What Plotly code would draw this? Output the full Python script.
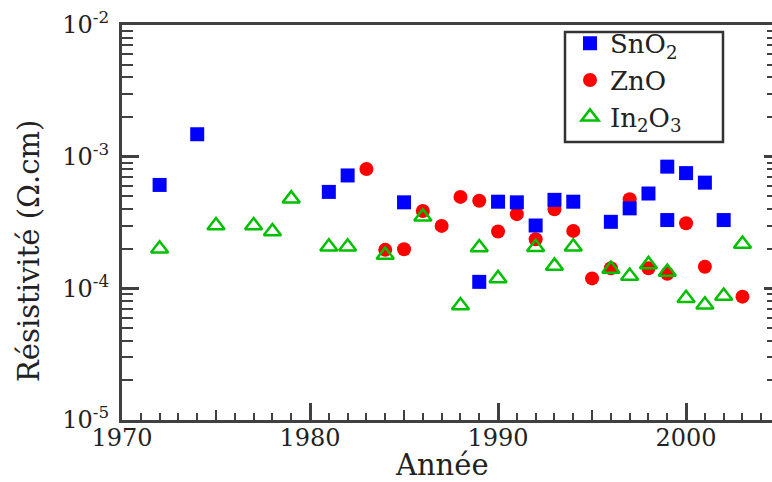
import plotly.graph_objects as go

# ---- data ----
sno2_years = [1972, 1974, 1981, 1982, 1985, 1989, 1990, 1991, 1992, 1993, 1994,
              1996, 1997, 1998, 1999, 1999, 2000, 2001, 2002]
sno2_vals = [6.1e-4, 1.48e-3, 5.4e-4, 7.2e-4, 4.5e-4, 1.12e-4, 4.55e-4, 4.5e-4, 3.0e-4,
             4.7e-4, 4.55e-4, 3.2e-4, 4.05e-4, 5.25e-4, 8.4e-4, 3.3e-4, 7.5e-4, 6.35e-4, 3.3e-4]

zno_years = [1983, 1984, 1985, 1986, 1987, 1988, 1989, 1990, 1991, 1992, 1993, 1994,
             1995, 1996, 1997, 1998, 1999, 2000, 2001, 2003]
zno_vals = [8.05e-4, 1.96e-4, 1.98e-4, 3.87e-4, 2.98e-4, 4.95e-4, 4.63e-4, 2.7e-4, 3.66e-4,
            2.36e-4, 3.98e-4, 2.73e-4, 1.19e-4, 1.42e-4, 4.75e-4, 1.42e-4, 1.29e-4, 3.12e-4,
            1.46e-4, 8.65e-5]

in2o3_years = [1972, 1975, 1977, 1978, 1979, 1981, 1982, 1984, 1986, 1988, 1989, 1990,
               1992, 1993, 1994, 1996, 1997, 1998, 1999, 2000, 2001, 2002, 2003]
in2o3_vals = [2.0e-4, 3.0e-4, 3.0e-4, 2.7e-4, 4.8e-4, 2.07e-4, 2.07e-4, 1.79e-4, 3.5e-4,
              7.4e-5, 2.04e-4, 1.19e-4, 2.05e-4, 1.48e-4, 2.07e-4, 1.4e-4, 1.24e-4, 1.52e-4,
              1.33e-4, 8.4e-5, 7.5e-5, 8.75e-5, 2.17e-4]

x_major = [1970, 1980, 1990, 2000]
x_half = [1975, 1985, 1995]
y_major = [1e-5, 1e-4, 1e-3, 1e-2]
y_labels = ["10<sup>-5</sup>", "10<sup>-4</sup>", "10<sup>-3</sup>", "10<sup>-2</sup>"]
y_minor = [m * 10.0 ** e for e in range(-5, -2) for m in range(2, 10)]

X_RANGE = [1970, 2004.57]
Y_RANGE = [-5, -2]
FONT = "DejaVu Serif"
AX = "#404040"
TXT = "#222222"

fig = go.Figure()
fig.add_trace(go.Scatter(x=zno_years, y=zno_vals, mode="markers", name="ZnO", legendrank=2,
                         marker=dict(symbol="circle", size=14, color="#ff0000")))
fig.add_trace(go.Scatter(x=sno2_years, y=sno2_vals, mode="markers", name="SnO<sub>2</sub>",
                         legendrank=1,
                         marker=dict(symbol="square", size=14, color="#0000ff")))
fig.add_trace(go.Scatter(x=in2o3_years, y=in2o3_vals, mode="markers",
                         name="In<sub>2</sub>O<sub>3</sub>", legendrank=3,
                         marker=dict(symbol="triangle-up-open", size=15, color="#00c000",
                                     line=dict(width=2.5, color="#00c000"))))
# helper empty traces to host the extra tick axes
fig.add_trace(go.Scatter(x=[], y=[], xaxis="x2", yaxis="y", showlegend=False, hoverinfo="skip"))
fig.add_trace(go.Scatter(x=[], y=[], xaxis="x", yaxis="y2", showlegend=False, hoverinfo="skip"))

fig.update_layout(
    width=772, height=482,
    margin=dict(l=122, r=0, t=25, b=62),
    paper_bgcolor="white", plot_bgcolor="white",
    showlegend=True,
    legend=dict(x=(570 - 122) / 650, y=1.013, xanchor="left", yanchor="top",
                borderwidth=0, bgcolor="rgba(0,0,0,0)",
                font=dict(family=FONT, size=26, color=TXT), tracegroupgap=0),
    shapes=[dict(type="rect", xref="paper", yref="paper",
                 x0=(565 - 122) / 650, x1=(723 - 122) / 650,
                 y0=(420 - 142) / 395, y1=(420 - 32) / 395,
                 line=dict(color="#333333", width=2.5), fillcolor="rgba(0,0,0,0)",
                 layer="below")],
    xaxis=dict(range=X_RANGE, tickmode="array", tickvals=x_major,
               ticks="inside", ticklen=17, tickwidth=3, tickcolor=AX,
               showline=True, linewidth=3, linecolor=AX, mirror=True,
               showgrid=False, zeroline=False, ticklabelstandoff=-6,
               tickfont=dict(family=FONT, size=24, color=TXT),
               minor=dict(ticks="inside", ticklen=7, tickwidth=2, tickcolor=AX,
                          dtick=1, tick0=1970, showgrid=False)),
    xaxis2=dict(range=X_RANGE, overlaying="x", anchor="y", side="bottom",
                tickmode="array", tickvals=x_half, ticks="inside", ticklen=10,
                tickwidth=2, tickcolor=AX, showticklabels=False, showline=False,
                showgrid=False, zeroline=False),
    yaxis=dict(type="log", range=Y_RANGE, tickmode="array", tickvals=y_major,
               ticktext=y_labels, ticks="inside", ticklen=17, tickwidth=3, tickcolor=AX,
               showline=True, linewidth=3, linecolor=AX, mirror=False,
               showgrid=False, zeroline=False, ticklabelstandoff=5,
               tickfont=dict(family=FONT, size=24, color=TXT),
               minor=dict(ticks="inside", ticklen=11, tickwidth=2, tickcolor=AX,
                          tickmode="array", tickvals=y_minor, showgrid=False)),
    yaxis2=dict(type="log", range=Y_RANGE, overlaying="y", side="right", anchor="x",
                tickmode="array", tickvals=y_major, ticks="inside", ticklen=8,
                tickwidth=3, tickcolor=AX, showticklabels=False, showline=False,
                showgrid=False, zeroline=False,
                minor=dict(ticks="inside", ticklen=5, tickwidth=2, tickcolor=AX,
                           tickmode="array", tickvals=y_minor, showgrid=False)),
    annotations=[
        dict(text="Résistivité (Ω.cm)", xref="paper", yref="paper", x=-0.143, y=0.428,
             xanchor="center", yanchor="middle", textangle=-90, showarrow=False,
             font=dict(family=FONT, size=29, color=TXT)),
        dict(text="Année", xref="paper", yref="paper", x=0.492, y=-0.114,
             xanchor="center", yanchor="middle", showarrow=False,
             font=dict(family=FONT, size=29, color=TXT)),
    ],
)

fig.write_html("out.html")
